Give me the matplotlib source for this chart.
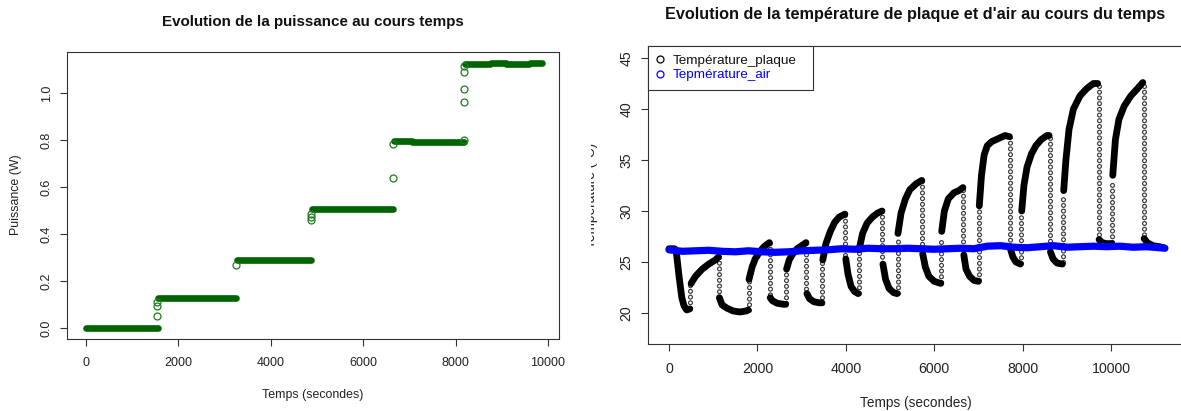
import matplotlib
matplotlib.use('Agg')
import matplotlib.pyplot as plt
import numpy as np
from matplotlib.lines import Line2D
from matplotlib.transforms import Bbox, TransformedBbox

plt.rcParams['font.family'] = ['Liberation Sans', 'DejaVu Sans']
plt.rcParams['lines.scale_dashes'] = False

W, H = 1181, 411

# ---- Puissance (graphique de gauche) ----
# paliers de puissance : debut, fin (s) et niveau (W)
palier_debut = [0, 1560, 3270, 4900, 6670, 7060, 8200, 8760, 9100, 9600]
palier_fin = [1550, 3250, 4880, 6650, 7050, 8180, 8750, 9090, 9590, 9870]
palier_niveau = [0.0, 0.129, 0.288, 0.507, 0.796, 0.791, 1.125, 1.129, 1.123, 1.129]
# points isoles pendant les changements de palier
saut_t = [1535, 1538, 1541, 3245, 4875, 4878, 4881, 6645, 6650, 8172, 8175, 8178, 8181, 8184]
saut_p = [0.052, 0.092, 0.112, 0.27, 0.458, 0.472, 0.487, 0.638, 0.785, 0.963, 1.018, 1.088, 1.113, 0.80]

# ---- Temperatures (graphique de droite) ----
# temperature de plaque (nan = coupure pendant un saut rapide)
t_plaque = [0, 130, 170, 230, 290, 340, 400, 470, np.nan,
            500, 600, 750, 900, 1050, 1120, np.nan,
            1140, 1200, 1300, 1450, 1600, 1750, 1790, np.nan,
            1810, 1880, 1950, 2050, 2150, 2270, np.nan,
            2290, 2340, 2450, 2600, 2640, np.nan,
            2660, 2720, 2800, 2900, 3000, 3100, np.nan,
            3120, 3180, 3280, 3400, 3460, np.nan,
            3480, 3550, 3650, 3750, 3850, 3980, np.nan,
            4000, 4050, 4120, 4200, 4280, np.nan,
            4300, 4380, 4480, 4600, 4720, 4820, np.nan,
            4840, 4900, 4980, 5080, 5160, np.nan,
            5180, 5250, 5350, 5450, 5600, 5720, np.nan,
            5740, 5800, 5880, 6000, 6150, np.nan,
            6170, 6230, 6320, 6450, 6560, 6650, np.nan,
            6670, 6720, 6800, 6900, 7000, np.nan,
            7020, 7070, 7130, 7200, 7300, 7450, 7600, 7700, np.nan,
            7730, 7780, 7850, 7950, np.nan,
            7980, 8030, 8100, 8200, 8300, 8420, 8550, 8600, np.nan,
            8630, 8690, 8780, 8900, np.nan,
            8930, 8980, 9050, 9150, 9300, 9450, 9600, 9700, np.nan,
            9730, 9800, 9900, 10020, np.nan,
            10040, 10100, 10180, 10300, 10450, 10600, 10720, np.nan,
            10750, 10820, 10950, 11100, 11200]
T_plaque = [26.3, 26.3, 25.8, 23.5, 21.5, 20.7, 20.3, 20.4, np.nan,
            22.9, 23.6, 24.3, 24.8, 25.2, 25.5, np.nan,
            21.5, 20.8, 20.5, 20.2, 20.1, 20.2, 20.3, np.nan,
            23.3, 24.5, 25.3, 26.0, 26.5, 26.9, np.nan,
            21.5, 21.2, 20.95, 20.85, 20.85, np.nan,
            24.3, 25.2, 25.8, 26.3, 26.6, 26.9, np.nan,
            21.9, 21.4, 21.1, 21.0, 21.0, np.nan,
            25.2, 26.8, 28.0, 28.9, 29.4, 29.7, np.nan,
            25.3, 23.8, 22.6, 22.1, 21.9, np.nan,
            26.2, 27.8, 28.8, 29.4, 29.8, 30.0, np.nan,
            24.8, 23.3, 22.4, 22.0, 21.9, np.nan,
            27.8, 29.8, 31.2, 32.1, 32.7, 33.0, np.nan,
            25.8, 24.5, 23.6, 23.1, 22.9, np.nan,
            28.0, 30.0, 31.2, 31.8, 32.0, 32.3, np.nan,
            25.7, 24.3, 23.6, 23.2, 23.1, np.nan,
            30.5, 33.5, 35.5, 36.4, 36.8, 37.1, 37.4, 37.3, np.nan,
            26.2, 25.5, 25.0, 24.8, np.nan,
            30.0, 32.5, 34.3, 35.6, 36.4, 37.0, 37.4, 37.4, np.nan,
            26.0, 25.3, 24.9, 24.8, np.nan,
            32.0, 35.0, 38.0, 40.0, 41.3, 42.0, 42.5, 42.5, np.nan,
            27.2, 26.9, 26.8, 26.8, np.nan,
            33.5, 37.0, 39.0, 40.3, 41.3, 42.0, 42.6, np.nan,
            27.3, 26.9, 26.6, 26.5, 26.4]
# sauts rapides (points espaces) : instant, temperature de depart et d'arrivee
saut_temps = [480, 1130, 1800, 2280, 2650, 3110, 3470, 3990, 4290, 4830, 5170,
              5730, 6160, 6660, 7010, 7720, 7970, 8620, 8920, 9720, 10030, 10740]
saut_debut = [20.5, 25.5, 20.3, 26.9, 21.0, 26.9, 21.0, 29.6, 22.0, 30.0, 22.0,
              32.9, 23.0, 32.1, 23.2, 37.3, 24.9, 37.2, 25.0, 42.3, 27.0, 42.3]
saut_fin = [22.8, 21.5, 23.2, 21.6, 24.2, 22.0, 25.0, 25.5, 26.0, 25.0, 27.5,
            26.0, 27.5, 26.0, 30.0, 26.5, 29.5, 26.5, 31.5, 27.5, 33.0, 27.5]

# temperature de l'air
t_air = [0, 300, 600, 900, 1200, 1500, 1800, 2100, 2400, 2700, 3000, 3300, 3600,
         3900, 4200, 4500, 4800, 5100, 5400, 5700, 6000, 6300, 6600, 6900, 7200,
         7500, 7800, 8100, 8400, 8700, 9000, 9300, 9600, 9900, 10200, 10500,
         10800, 11100, 11220]
T_air = [26.2, 26.05, 26.1, 26.15, 26.05, 26.0, 26.1, 26.0, 25.95, 26.0, 26.1,
         26.15, 26.2, 26.3, 26.25, 26.35, 26.3, 26.3, 26.35, 26.3, 26.25, 26.3,
         26.35, 26.3, 26.55, 26.6, 26.45, 26.4, 26.5, 26.6, 26.45, 26.5, 26.55,
         26.5, 26.55, 26.45, 26.5, 26.4, 26.35]

fig = plt.figure(figsize=(W / 100, H / 100), dpi=100)


def px(x, y):
    return x / W, 1 - y / H


def style_axes(ax, taille):
    for s in ax.spines.values():
        s.set_color('#333333')
        s.set_linewidth(0.8)
    ax.tick_params(axis='both', length=5, width=0.8, color='#333333',
                   labelsize=taille, labelcolor='#222222')
    ax.tick_params(axis='x', pad=8)
    ax.tick_params(axis='y', pad=5.3, labelrotation=90)
    for lab in ax.get_yticklabels():
        lab.set_va('center')


# ---- gauche ----
ax1 = fig.add_axes([67 / W, 1 - 339 / H, (559 - 67) / W, (339 - 52) / H])
lc = ax1.hlines(palier_niveau, palier_debut, palier_fin, colors='#006400', lw=4.8)
lc.set_capstyle('round')
ax1.plot(saut_t, saut_p, 'o', mfc='none', mec='#1f7a1f', ms=5, mew=0.9)
ax1.set_xlim(-411, 10238)
ax1.set_ylim(-0.0468, 1.1745)
ax1.set_xticks([0, 2000, 4000, 6000, 8000, 10000])
ax1.set_yticks([0, 0.2, 0.4, 0.6, 0.8, 1.0])
ax1.set_yticklabels(['0.0', '0.2', '0.4', '0.6', '0.8', '1.0'])
style_axes(ax1, 9.0)

# ---- droite ----
ax2 = fig.add_axes([648 / W, 1 - 344 / H, (1186 - 648) / W, (344 - 46) / H])
for t, a, b in zip(saut_temps, saut_debut, saut_fin):
    ax2.plot([t, t], [a, b], color='#3a3a3a', lw=3.7, ls=(0, (0.01, 4.1)),
             dash_capstyle='round', zorder=2)
    ax2.plot([t, t], [a, b], color='white', lw=2.0, ls=(0, (0.01, 4.1)),
             dash_capstyle='round', zorder=2.1)
ax2.plot(t_plaque, T_plaque, color='black', lw=4.9, solid_capstyle='round',
         solid_joinstyle='round', zorder=3)
ax2.plot(t_air, T_air, color='#0000ff', lw=5.2, solid_capstyle='round',
         solid_joinstyle='round', zorder=4)
ax2.set_xlim(-475, 11697)
ax2.set_ylim(16.96, 46.18)
ax2.set_xticks([0, 2000, 4000, 6000, 8000, 10000])
ax2.set_yticks([20, 25, 30, 35, 40, 45])
style_axes(ax2, 10.2)
ax2.spines['right'].set_visible(False)

poignees = [Line2D([], [], ls='none', marker='o', mfc='none', mec='black', ms=5, mew=0.9),
            Line2D([], [], ls='none', marker='o', mfc='none', mec='blue', ms=5, mew=0.9)]
leg = ax2.legend(poignees, ['Température_plaque', 'Tepmérature_air'],
                 loc='upper left', bbox_to_anchor=(0, 1, 165 / 538, 0), mode='expand',
                 borderaxespad=0, fancybox=False, edgecolor='#333333', framealpha=1,
                 fontsize=9.7, handlelength=0.45, handletextpad=0.75, borderpad=0.65,
                 labelspacing=0.12, labelcolor=['#111111', 'blue'])
leg.get_frame().set_linewidth(0.8)

# ---- textes ----
fig.text(*px(313, 22), 'Evolution de la puissance au cours temps', ha='center',
         va='center', fontsize=10.9, fontweight='bold', color='#111111')
fig.text(*px(915, 15), "Evolution de la température de plaque et d'air au cours du temps",
         ha='center', va='center', fontsize=11.7, fontweight='bold', color='#111111')
fig.text(*px(313, 395), 'Temps (secondes)', ha='center', va='center', fontsize=8.9,
         color='#222222')
fig.text(*px(916, 403), 'Temps (secondes)', ha='center', va='center', fontsize=9.8,
         color='#222222')
fig.text(*px(16, 195), 'Puissance (W)', ha='center', va='center', rotation=90,
         fontsize=8.9, color='#222222')
ylab = fig.text(*px(591.5, 195), 'Température (°C)', ha='center', va='center',
                rotation=90, fontsize=9.8, color='#222222')
ylab.set_clip_box(TransformedBbox(Bbox([[591 / W, 0], [1, 1]]), fig.transFigure))
ylab.set_clip_on(True)

fig.savefig('out.png', dpi=100)
